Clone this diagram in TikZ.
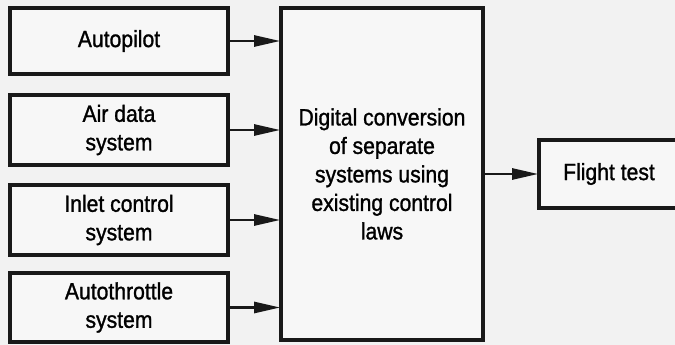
\documentclass[tikz,border=0pt]{standalone}
\usepackage{fontspec}
\setmainfont[FakeStretch=0.9,FakeBold=1.2]{Liberation Sans}
\usetikzlibrary{arrows.meta}
\begin{document}
\begin{tikzpicture}[x=1pt,y=-1pt,
  box/.style={draw=black!90, line width=3.6pt, fill=black!3, inner sep=0pt, align=center,
    font=\fontsize{23.5}{28.5}\selectfont},
  link/.style={draw=black!90, line width=2.6pt, -{Stealth[length=26pt,width=11pt,inset=0pt]}, shorten >=-1pt}]
\fill[black!5] (0,0) rectangle (675,345);
\clip (0,0) rectangle (675,345);
\node[box, minimum width=218pt, minimum height=66pt] (ap) at (119,41) {Autopilot};
\node[box, minimum width=218pt, minimum height=70pt] (ad) at (119,130) {Air data\\system};
\node[box, minimum width=218pt, minimum height=70pt] (ic) at (119,220) {Inlet control\\system};
\node[box, minimum width=218pt, minimum height=69pt] (at) at (119,307.5) {Autothrottle\\system};
\node[box, minimum width=202pt, minimum height=332pt] (dc) at (382,174) {Digital conversion\\of separate\\systems using\\existing control\\laws};
\node[box, minimum width=140pt, minimum height=68pt] (ft) at (609,174) {Flight test};
\draw[link] (ap.east) -- (ap.east -| dc.west);
\draw[link] (ad.east) -- (ad.east -| dc.west);
\draw[link] (ic.east) -- (ic.east -| dc.west);
\draw[link] (at.east) -- (at.east -| dc.west);
\draw[link] (dc.east) -- (ft.west);
\end{tikzpicture}
\end{document}
